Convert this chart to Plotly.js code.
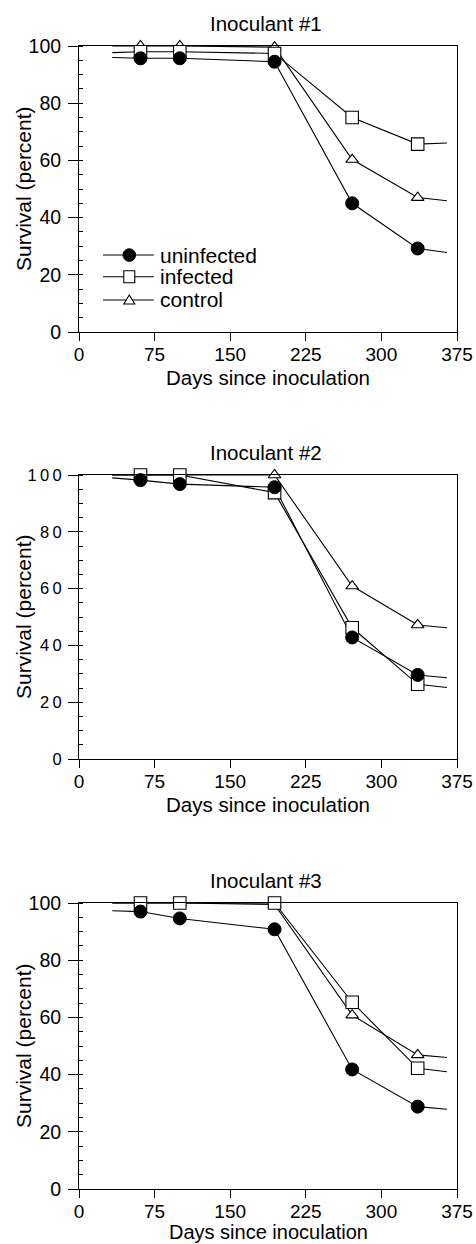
<!DOCTYPE html>
<html><head><meta charset="utf-8">
<script src="https://cdn.plot.ly/plotly-3.0.1.min.js"></script>
<style>html,body{margin:0;padding:0;background:#fff}</style>
</head><body><div id="chart" style="width:476px;height:1244px"></div>
<script>
// ---------------- data ----------------
const days = [61, 100, 194, 271, 336];
const lineStartDay = 33;
const lineEndDay = 365;
const seriesNames = ['uninfected', 'infected', 'control'];
const panelTitles = ['Inoculant #1', 'Inoculant #2', 'Inoculant #3'];
const xTickVals = [0, 75, 150, 225, 300, 375];
const xTickText = ['0', '75', '150', '225', '300', '375'];
const yTickVals = [0, 20, 40, 60, 80, 100];
const yTickText = ['0', '20', '40', '60', '80', '100'];
const yTickTextSpaced = ['0', '2\u20090', '4\u20090', '6\u20090', '8\u20090', '1\u20090\u20090'];

// Inoculant #1 (survival %, at each day); ends = [value at line start, value at line end]
const uninfected1 = [95.7, 95.7, 94.5, 45.0, 29.2];
const infected1   = [98.0, 98.0, 97.4, 75.0, 65.7];
const control1    = [100, 100, 99.6, 60.3, 47.0];
const uninfectedEnds1 = [96.0, 27.8];
const infectedEnds1   = [97.7, 66.1];
const controlEnds1    = [100, 45.9];

// Inoculant #2
const uninfected2 = [98.2, 96.8, 95.7, 42.8, 29.6];
const infected2   = [100, 100, 93.8, 46.2, 26.3];
const control2    = [100, 100, 100, 60.9, 47.2];
const uninfectedEnds2 = [99.0, 28.6];
const infectedEnds2   = [100, 25.2];
const controlEnds2    = [100, 46.2];

// Inoculant #3
const uninfected3 = [97.0, 94.6, 90.8, 41.8, 28.8];
const infected3   = [100, 100, 100, 65.3, 42.2];
const control3    = [100, 100, 99.5, 60.8, 46.9];
const uninfectedEnds3 = [97.3, 27.9];
const infectedEnds3   = [100, 41.0];
const controlEnds3    = [100, 46.0];

// ---------------- build ----------------
const FONT = 'Liberation Sans, Arial, Helvetica, sans-serif';
const panels = [
  {u: uninfected1, i: infected1, c: control1, ue: uninfectedEnds1, ie: infectedEnds1, ce: controlEnds1},
  {u: uninfected2, i: infected2, c: control2, ue: uninfectedEnds2, ie: infectedEnds2, ce: controlEnds2},
  {u: uninfected3, i: infected3, c: control3, ue: uninfectedEnds3, ie: infectedEnds3, ce: controlEnds3}
];
const W = 476, H = 1244, ML = 79, MR = 19;
const plotPx = [[46, 332], [475, 759], [903, 1189]]; // top, bottom pixel of each plot area
const markerStyle = {
  uninfected: {symbol: 'circle', size: 13, color: '#000', line: {color: '#000', width: 1}},
  infected:   {symbol: 'square', size: 12.5, color: '#fff', line: {color: '#000', width: 1.1}},
  control:    {symbol: 'triangle-up', size: 11, color: '#fff', line: {color: '#000', width: 1.1}}
};

const traces = [];
const layout = {
  width: W, height: H,
  margin: {l: ML, r: MR, t: 0, b: 0},
  paper_bgcolor: '#fff', plot_bgcolor: '#fff',
  showlegend: false,
  font: {family: FONT, color: '#000'},
  annotations: [], shapes: []
};

panels.forEach((p, k) => {
  const xa = k === 0 ? 'x' : 'x' + (k + 1);
  const ya = k === 0 ? 'y' : 'y' + (k + 1);
  const order = [['control', p.c, p.ce], ['infected', p.i, p.ie], ['uninfected', p.u, p.ue]];
  order.forEach(([name, vals, ends]) => {
    traces.push({
      x: [lineStartDay].concat(days, [lineEndDay]),
      y: [ends[0]].concat(vals, [ends[1]]),
      xaxis: xa, yaxis: ya, mode: 'lines', name: name,
      line: {color: '#000', width: 1.1}, cliponaxis: false, hoverinfo: 'skip'
    });
  });
  order.forEach(([name, vals]) => {
    traces.push({
      x: days, y: vals, xaxis: xa, yaxis: ya, mode: 'markers', name: name,
      marker: markerStyle[name], cliponaxis: false
    });
  });
  const [top, bot] = plotPx[k];
  const dom = [1 - bot / H, 1 - top / H];
  const xKey = k === 0 ? 'xaxis' : 'xaxis' + (k + 1);
  const yKey = k === 0 ? 'yaxis' : 'yaxis' + (k + 1);
  layout[xKey] = {
    domain: [0, 1], anchor: ya, range: [0, 375], fixedrange: true,
    tickmode: 'array', tickvals: xTickVals, ticktext: xTickText,
    ticks: 'outside', ticklen: 8, tickwidth: 1, tickcolor: '#000',
    ticklabelstandoff: -3,
    showline: true, linecolor: '#000', linewidth: 1, mirror: true,
    showgrid: false, zeroline: false,
    tickfont: {family: FONT, size: 19, color: '#000'}
  };
  layout[yKey] = {
    domain: dom, anchor: xa, range: [0, 100], fixedrange: true,
    tickmode: 'array', tickvals: yTickVals, ticktext: k === 1 ? yTickTextSpaced : yTickText,
    ticks: 'outside', ticklen: 10, tickwidth: 1, tickcolor: '#000',
    ticklabelstandoff: 3,
    minor: {dtick: 5, ticks: 'inside', ticklen: 4, tickwidth: 1, tickcolor: '#000'},
    showline: true, linecolor: '#000', linewidth: 1, mirror: true,
    showgrid: false, zeroline: false,
    tickfont: {family: FONT, size: k === 1 ? 16.5 : 19.5, color: '#000'}
  };
  const xd = xa + ' domain', yd = ya + ' domain';
  // panel title
  layout.annotations.push({text: panelTitles[k], xref: xd, yref: yd, x: 0.5, y: 1,
    xanchor: 'center', yanchor: 'bottom', yshift: 9, xshift: -2, showarrow: false,
    font: {family: FONT, size: 20.5, color: '#000'}});
  // x-axis title
  layout.annotations.push({text: 'Days since inoculation', xref: xd, yref: yd, x: 0.5, y: 0,
    xanchor: 'center', yanchor: 'top', yshift: k === 2 ? -31 : -33, borderpad: 0, showarrow: false,
    font: {family: FONT, size: k === 2 ? 20 : 20.5, color: '#000'}});
  // y-axis title (centre at pixel x = 23)
  layout.annotations.push({text: 'Survival (percent)', xref: 'paper', yref: yd,
    x: (23 - ML) / (W - ML - MR), y: 0.5,
    xanchor: 'center', yanchor: 'middle', textangle: -90, showarrow: false,
    font: {family: FONT, size: 21, color: '#000'}});
});

// ---------------- legend (panel 1) ----------------
const legRows = [0.269, 0.193, 0.112];
const legLine = [0.0635, 0.198];
const legMark = 0.133;
seriesNames.forEach((name, j) => {
  const yy = legRows[j];
  layout.shapes.push({type: 'line', xref: 'x domain', yref: 'y domain',
    x0: legLine[0], x1: legLine[1], y0: yy, y1: yy, line: {color: '#000', width: 1.1}});
  if (name === 'uninfected') {
    layout.shapes.push({type: 'circle', xref: 'x domain', yref: 'y domain',
      xsizemode: 'pixel', ysizemode: 'pixel', xanchor: legMark, yanchor: yy,
      x0: -6.3, x1: 6.3, y0: -6.3, y1: 6.3, fillcolor: '#000', line: {color: '#000', width: 1}});
  } else if (name === 'infected') {
    layout.shapes.push({type: 'rect', xref: 'x domain', yref: 'y domain',
      xsizemode: 'pixel', ysizemode: 'pixel', xanchor: legMark, yanchor: yy,
      x0: -5.5, x1: 5.5, y0: -6, y1: 6, fillcolor: '#fff', line: {color: '#000', width: 1.1}});
  } else {
    layout.shapes.push({type: 'path', xref: 'x domain', yref: 'y domain',
      xsizemode: 'pixel', ysizemode: 'pixel', xanchor: legMark, yanchor: yy,
      path: 'M -5.5 -4 L 5.5 -4 L 0 5 Z', fillcolor: '#fff', line: {color: '#000', width: 1.1}});
  }
  layout.annotations.push({text: name, xref: 'x domain', yref: 'y domain', x: 0.21, y: yy,
    xanchor: 'left', yanchor: 'middle', showarrow: false,
    font: {family: FONT, size: 21, color: '#000'}});
});

Plotly.newPlot('chart', traces, layout, {displayModeBar: false, staticPlot: true});
</script>
</body></html>
